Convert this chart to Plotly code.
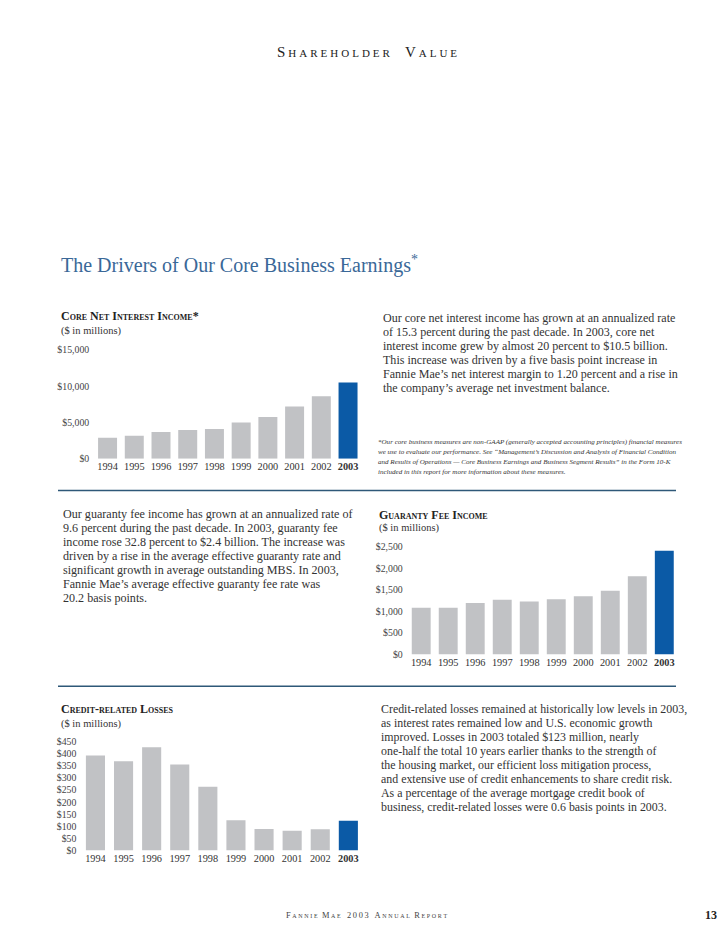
import plotly.graph_objects as go

# ---------------- data ----------------
years = ["1994", "1995", "1996", "1997", "1998", "1999", "2000", "2001", "2002", "2003"]
year_labels = ["1994", "1995", "1996", "1997", "1998", "1999", "2000", "2001", "2002", "<b>2003</b>"]

core_net_interest_income = [2900, 3150, 3700, 3950, 4100, 5000, 5750, 7200, 8600, 10500]
core_tickvals = [0, 5000, 10000, 15000]
core_ticklabels = ["$0", "$5,000", "$10,000", "$15,000"]

guaranty_fee_income = [1083, 1086, 1196, 1274, 1229, 1282, 1351, 1482, 1816, 2411]
fee_tickvals = [0, 500, 1000, 1500, 2000, 2500]
fee_ticklabels = ["$0", "$500", "$1,000", "$1,500", "$2,000", "$2,500"]

credit_related_losses = [393, 369, 427, 355, 263, 125, 89, 81, 87, 123]
loss_tickvals = [0, 50, 100, 150, 200, 250, 300, 350, 400, 450]
loss_ticklabels = ["$0", "$50", "$100", "$150", "$200", "$250", "$300", "$350", "$400", "$450"]

para_core = [
    "Our core net interest income has grown at an annualized rate",
    "of 15.3 percent during the past decade. In 2003, core net",
    "interest income grew by almost 20 percent to $10.5 billion.",
    "This increase was driven by a five basis point increase in",
    "Fannie Mae\u2019s net interest margin to 1.20 percent and a rise in",
    "the company\u2019s average net investment balance.",
]
footnote = [
    "*Our core business measures are non-GAAP (generally accepted accounting principles) financial measures",
    "we use to evaluate our performance. See \u201cManagement\u2019s Discussion and Analysis of Financial Condition",
    "and Results of Operations \u2014 Core Business Earnings and Business Segment Results\u201d in the Form 10-K",
    "included in this report for more information about these measures.",
]
para_fee = [
    "Our guaranty fee income has grown at an annualized rate of",
    "9.6 percent during the past decade. In 2003, guaranty fee",
    "income rose 32.8 percent to $2.4 billion. The increase was",
    "driven by a rise in the average effective guaranty rate and",
    "significant growth in average outstanding MBS. In 2003,",
    "Fannie Mae\u2019s average effective guaranty fee rate was",
    "20.2 basis points.",
]
para_loss = [
    "Credit-related losses remained at historically low levels in 2003,",
    "as interest rates remained low and U.S. economic growth",
    "improved. Losses in 2003 totaled $123 million, nearly",
    "one-half the total 10 years earlier thanks to the strength of",
    "the housing market, our efficient loss mitigation process,",
    "and extensive use of credit enhancements to share credit risk.",
    "As a percentage of the average mortgage credit book of",
    "business, credit-related losses were 0.6 basis points in 2003.",
]

# ---------------- layout helpers ----------------
W, H = 728, 949
SERIF = "Liberation Serif"
GRAY = "#c1c2c5"
BLUE = "#0b5aa6"
TXT = "#333333"


def fx(x):
    return x / W


def fy(y):
    return 1 - y / H


fig = go.Figure()
annotations = []
shapes = []


def text(x, y, s, size=12.1, color=TXT, anchor="left", **font_kw):
    annotations.append(dict(
        x=fx(x), y=fy(y), xref="paper", yref="paper", text=s, showarrow=False,
        xanchor=anchor, yanchor="middle", align=anchor,
        font=dict(family=SERIF, size=size, color=color, **font_kw),
    ))


def lines(x, y0, dy, rows, **kw):
    for i, r in enumerate(rows):
        text(x, y0 + i * dy, r, **kw)


colors = [GRAY] * 9 + [BLUE]

charts = [
    dict(vals=core_net_interest_income, xd=(94.2, 361.4), yd=(458, 348), rng=[0, 15000],
         tv=core_tickvals, tt=core_ticklabels, bw=0.71),
    dict(vals=guaranty_fee_income, xd=(407.7, 677.8), yd=(656, 547.3), rng=[0, 2500],
         tv=fee_tickvals, tt=fee_ticklabels, bw=0.70),
    dict(vals=credit_related_losses, xd=(81.4, 362.4), yd=(854.3, 744.3), rng=[0, 450],
         tv=loss_tickvals, tt=loss_ticklabels, bw=0.68),
]

layout_axes = {}
for i, c in enumerate(charts):
    n = "" if i == 0 else str(i + 1)
    fig.add_trace(go.Bar(
        x=years, y=c["vals"], marker=dict(color=colors, line=dict(width=0)),
        width=c["bw"], xaxis="x" + n, yaxis="y" + n, hoverinfo="x+y",
    ))
    layout_axes["xaxis" + n] = dict(
        domain=[fx(c["xd"][0]), fx(c["xd"][1])], anchor="y" + n,
        type="category", tickvals=years, ticktext=year_labels,
        showgrid=False, zeroline=False, showline=False, ticks="",
        tickfont=dict(family=SERIF, size=10.3, color="#333"), fixedrange=True,
    )
    layout_axes["yaxis" + n] = dict(
        domain=[fy(c["yd"][0]), fy(c["yd"][1])], anchor="x" + n,
        range=c["rng"], tickvals=c["tv"], ticktext=c["tt"],
        showgrid=False, zeroline=False, showline=False, ticks="",
        ticklabelstandoff=4,
        tickfont=dict(family=SERIF, size=9.8, color="#444"), fixedrange=True,
    )

# ---------------- page text ----------------
text(367, 47, "S\u2009h\u2009a\u2009r\u2009e\u2009h\u2009o\u2009l\u2009d\u2009e\u2009r\u2003V\u2009a\u2009l\u2009u\u2009e",
     size=15, color="#222", anchor="center", variant="small-caps")

text(59, 262, "The Drivers of Our Core Business Earnings<sup>*</sup>", size=20, color="#3a6898")

# chart titles
text(59, 314, "<b>Core Net Interest Income*</b>", size=12, color="#222", variant="small-caps")
text(59, 329, "($ in millions)", size=10.5, color="#333")
text(376.7, 515, "<b>Guaranty Fee Income</b>", size=12, color="#222", variant="small-caps")
text(376.7, 528, "($ in millions)", size=10.5, color="#333")
text(59.3, 711, "<b>Credit-related Losses</b>", size=12, color="#222", variant="small-caps")
text(59.3, 726, "($ in millions)", size=10.5, color="#333")

# paragraphs
lines(380.5, 316, 14.15, para_core, size=12.05)
lines(376, 440.7, 10.1, footnote, size=7.05, style="italic", color="#333")
lines(61, 514, 14.15, para_fee, size=12.1)
lines(379, 711.7, 14.15, para_loss, size=11.9)

# footer
text(366, 920, "F\u2009a\u2009n\u2009n\u2009i\u2009e\u2002M\u2009a\u2009e\u2002 2\u20090\u20090\u20093\u2002 A\u2009n\u2009n\u2009u\u2009a\u2009l\u2002R\u2009e\u2009p\u2009o\u2009r\u2009t",
     size=8.4, color="#444", anchor="center", variant="small-caps")
text(711, 920, "<b>13</b>", size=12, color="#222", anchor="center")

# divider rules
for yy in (490.3, 688.3):
    shapes.append(dict(type="line", xref="paper", yref="paper",
                       x0=fx(58), x1=fx(676), y0=fy(yy), y1=fy(yy),
                       line=dict(color="#2e5878", width=1.5)))

fig.update_layout(
    width=W, height=H, margin=dict(l=0, r=0, t=0, b=0),
    paper_bgcolor="white", plot_bgcolor="white", showlegend=False,
    annotations=annotations, shapes=shapes, **layout_axes,
)

fig.write_html(
    "out.html",
    config={"displayModeBar": False},
    post_script="document.body.style.margin='0';document.body.style.overflow='hidden';",
)
